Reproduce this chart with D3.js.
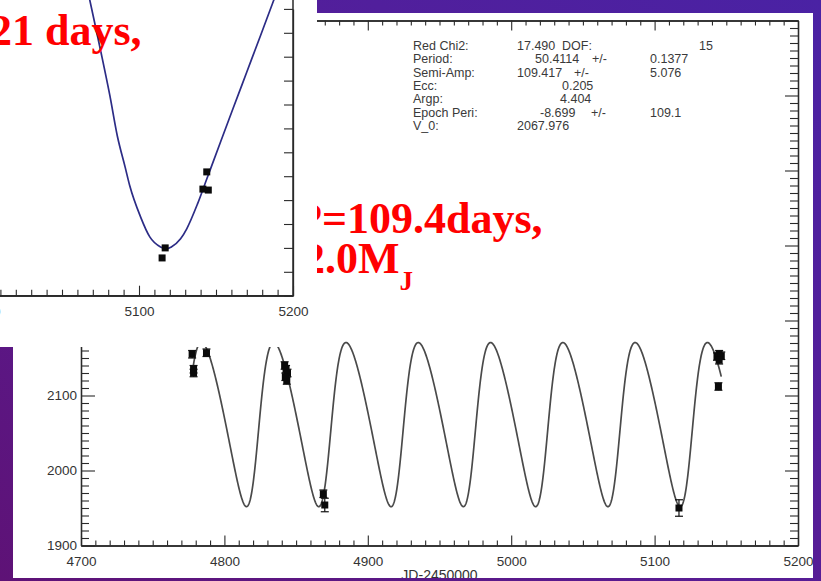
<!DOCTYPE html>
<html>
<head>
<meta charset="utf-8">
<script src="https://cdn.jsdelivr.net/npm/d3@7"></script>
<style>
  html, body { margin: 0; padding: 0; background: #fff; }
  svg { display: block; }
  .tick text { font-family: "Liberation Sans", Arial, sans-serif; fill: #333; }
</style>
</head>
<body>
<svg id="chart" width="821" height="581"></svg>
<script>
// ---- radial-velocity observations (JD-2450000, m/s) ----
const obsTime = [4777.5, 4778.5, 4778.5, 4787.5, 4842, 4843, 4844, 4842.5, 4843.5, 4869, 4870, 5117, 5143.5, 5145, 5146.5, 5145, 5144.5];
const obsRV   = [2155, 2135, 2130, 2157, 2140, 2135, 2130, 2125, 2120, 1969, 1954, 1950, 2152, 2155, 2153, 2147, 2112];
const obsErr  = [5, 5, 5, 5, 5, 5, 5, 5, 5, 5, 9, 11, 5, 5, 5, 5, 5];

// ---- Keplerian fit parameters ----
const fitPeriod = 50.4114;
const fitK = 109.417;
const fitEcc = 0.205;
const fitArgp = 4.404;      // radians
const fitV0 = 2067.976;
const fitTperi = 4973.8;    // JD-2450000

// ---- fit summary text ----
const statNames  = ["Red Chi2:", "Period:", "Semi-Amp:", "Ecc:", "Argp:", "Epoch Peri:", "V_0:"];
const statValues = ["17.490", "50.4114", "109.417", "0.205", "4.404", "-8.699", "2067.976"];
const statPM     = ["", "+/-", "+/-", "", "", "+/-", ""];
const statErrors = ["", "0.1377", "5.076", "", "", "109.1", ""];
const dofLabel = "DOF:";
const dofValue = "15";

// ---- main axis ticks ----
const xTicks = [4700, 4800, 4900, 5000, 5100, 5200];
const yTicks = [1900, 2000, 2100];
const xTitle = "JD-2450000";

// ---- inset panel: observations and fitted curve ----
const insetTime = [5115, 5117, 5141.5, 5144, 5145];
const insetRV   = [1929, 1950, 2073, 2109, 2071];
const insetCurveTime = [5061, 5068, 5075, 5081, 5086, 5091, 5094, 5101, 5107, 5114, 5118, 5121, 5127, 5131, 5138, 5144, 5153, 5161, 5170, 5179, 5187, 5193];
const insetCurveRV   = [2575, 2469, 2364, 2270, 2183, 2119, 2080, 2015, 1973, 1952, 1948, 1952, 1969, 1990, 2042, 2094, 2172, 2241, 2318, 2395, 2464, 2515];
const insetXTicks = [5000, 5100, 5200];

// ---- planet annotations ----
const noteTop = "21 days,";
const notePeriod = "P=109.4days,";
const noteMass = "2.0M";
const noteMassSub = "J";

const svg = d3.select("#chart");
const defs = svg.append("defs");

// purple slide background
const grad = defs.append("linearGradient").attr("id", "bg")
  .attr("x1", "1").attr("y1", "0").attr("x2", "0").attr("y2", "1");
grad.append("stop").attr("offset", "0%").attr("stop-color", "#4a22a4");
grad.append("stop").attr("offset", "55%").attr("stop-color", "#581c94");
grad.append("stop").attr("offset", "100%").attr("stop-color", "#5e1276");
svg.append("rect").attr("width", 821).attr("height", 581).attr("fill", "url(#bg)");

const sansFont = '"Liberation Sans", Arial, sans-serif';
const serifFont = '"Liberation Serif", "Times New Roman", serif';
const axisColor = "#2a2a2a";

// =============== main panel ===============
const main = svg.append("g");
main.append("rect").attr("x", 13).attr("y", 13).attr("width", 800).attr("height", 565).attr("fill", "#fff");
defs.append("clipPath").attr("id", "mainClip")
  .append("rect").attr("x", 13).attr("y", 13).attr("width", 800).attr("height", 565);
const mainG = main.append("g").attr("clip-path", "url(#mainClip)");

const x = d3.scaleLinear().domain([4700, 5200]).range([81, 798]);
const y = d3.scaleLinear().domain([1900, 2600]).range([545.5, 20.5]);
const [pl, pr] = x.range();
const [pb, pt] = y.range();

function styleAxis(g, fontSize) {
  g.selectAll("path.domain").attr("stroke", axisColor).attr("stroke-width", 1.3);
  g.selectAll(".tick line").attr("stroke", axisColor).attr("stroke-width", 1.1);
  g.selectAll(".tick text").attr("font-size", fontSize);
}

const minorX = d3.range(4700, 5201, 10).filter(v => v % 100 !== 0);
const minorY = d3.range(1900, 2601, 10).filter(v => v % 100 !== 0);
const majorY = d3.range(1900, 2601, 100);

// bottom axis
mainG.append("g").attr("transform", `translate(0,${pb})`)
  .call(d3.axisBottom(x).tickValues(minorX).tickSizeInner(-5).tickSizeOuter(0).tickFormat(""))
  .call(g => styleAxis(g, 13));
mainG.append("g").attr("transform", `translate(0,${pb})`)
  .call(d3.axisBottom(x).tickValues(xTicks).tickSizeInner(-10).tickSizeOuter(0).tickPadding(11).tickFormat(d3.format("d")))
  .call(g => styleAxis(g, 13.5));
// top axis
mainG.append("g").attr("transform", `translate(0,${pt})`)
  .call(d3.axisTop(x).tickValues(minorX).tickSizeInner(-5).tickSizeOuter(0).tickFormat(""))
  .call(g => styleAxis(g, 13));
mainG.append("g").attr("transform", `translate(0,${pt})`)
  .call(d3.axisTop(x).tickValues(xTicks).tickSizeInner(-10).tickSizeOuter(0).tickFormat(""))
  .call(g => styleAxis(g, 13));
// left axis
mainG.append("g").attr("transform", `translate(${pl},0)`)
  .call(d3.axisLeft(y).tickValues(minorY).tickSizeInner(-8).tickSizeOuter(0).tickFormat(""))
  .call(g => styleAxis(g, 13));
mainG.append("g").attr("transform", `translate(${pl},0)`)
  .call(d3.axisLeft(y).tickValues(majorY).tickSizeInner(-14).tickSizeOuter(0).tickFormat(""))
  .call(g => styleAxis(g, 13));
mainG.append("g").attr("transform", `translate(${pl},0)`)
  .call(d3.axisLeft(y).tickValues(yTicks).tickSizeInner(0).tickSizeOuter(0).tickPadding(4).tickFormat(d3.format("d")))
  .call(g => { styleAxis(g, 13.5); g.select("path.domain").remove(); });
// right axis
mainG.append("g").attr("transform", `translate(${pr},0)`)
  .call(d3.axisRight(y).tickValues(minorY).tickSizeInner(-8).tickSizeOuter(0).tickFormat(""))
  .call(g => styleAxis(g, 13));
mainG.append("g").attr("transform", `translate(${pr},0)`)
  .call(d3.axisRight(y).tickValues(majorY).tickSizeInner(-13).tickSizeOuter(0).tickFormat(""))
  .call(g => styleAxis(g, 13));

// axis title
mainG.append("text").attr("x", (pl + pr) / 2).attr("y", 580)
  .attr("text-anchor", "middle").attr("font-family", sansFont).attr("font-size", 14)
  .attr("fill", "#333").text(xTitle);

// Keplerian radial-velocity model, drawn across the span of the observations
function keplerRV(t) {
  const M = 2 * Math.PI * (t - fitTperi) / fitPeriod;
  let E = M;
  for (let i = 0; i < 12; i++) E = E - (E - fitEcc * Math.sin(E) - M) / (1 - fitEcc * Math.cos(E));
  const nu = 2 * Math.atan2(Math.sqrt(1 + fitEcc) * Math.sin(E / 2), Math.sqrt(1 - fitEcc) * Math.cos(E / 2));
  return fitV0 + fitK * (Math.cos(nu + fitArgp) + fitEcc * Math.cos(fitArgp));
}
const [tFirst, tLast] = d3.extent(obsTime);
const modelT = d3.range(tFirst, tLast + 0.01, 0.25);
defs.append("clipPath").attr("id", "plotClip")
  .append("rect").attr("x", pl).attr("y", pt).attr("width", pr - pl).attr("height", pb - pt);
mainG.append("path")
  .attr("clip-path", "url(#plotClip)")
  .attr("d", d3.line().x(t => x(t)).y(t => y(keplerRV(t)))(modelT))
  .attr("fill", "none").attr("stroke", "#4a4a4a").attr("stroke-width", 1.7);

// observations with error bars
const obs = obsTime.map((t, i) => ({ t, v: obsRV[i], e: obsErr[i] }));
const eb = mainG.append("g").attr("stroke", "#111").attr("stroke-width", 1.2);
obs.forEach(d => {
  eb.append("line").attr("x1", x(d.t)).attr("x2", x(d.t)).attr("y1", y(d.v - d.e)).attr("y2", y(d.v + d.e));
  eb.append("line").attr("x1", x(d.t) - 4).attr("x2", x(d.t) + 4).attr("y1", y(d.v - d.e)).attr("y2", y(d.v - d.e));
  eb.append("line").attr("x1", x(d.t) - 4).attr("x2", x(d.t) + 4).attr("y1", y(d.v + d.e)).attr("y2", y(d.v + d.e));
});
mainG.append("g").selectAll("rect").data(obs).join("rect")
  .attr("x", d => x(d.t) - 3.5).attr("y", d => y(d.v) - 3.5)
  .attr("width", 7).attr("height", 7).attr("fill", "#0a0a0a");

// fit summary block
const stats = mainG.append("g").attr("font-family", sansFont).attr("font-size", 12.5).attr("fill", "#3a3a3a");
const rowY = i => 50 + i * 13.3;
const valueX = [517, 535, 517, 562, 560, 540, 517];
const pmX = [0, 592, 574, 0, 0, 591, 0];
statNames.forEach((s, i) => {
  stats.append("text").attr("x", 413).attr("y", rowY(i)).text(s);
  stats.append("text").attr("x", valueX[i]).attr("y", rowY(i)).text(statValues[i]);
  if (statPM[i]) stats.append("text").attr("x", pmX[i]).attr("y", rowY(i)).text(statPM[i]);
  if (statErrors[i]) stats.append("text").attr("x", 650).attr("y", rowY(i)).text(statErrors[i]);
});
stats.append("text").attr("x", 562).attr("y", rowY(0)).text(dofLabel);
stats.append("text").attr("x", 713).attr("y", rowY(0)).attr("text-anchor", "end").text(dofValue);

// planet annotation (period / mass)
const note = mainG.append("g").attr("font-family", serifFont).attr("font-weight", "bold").attr("fill", "#ff0000");
note.append("text").attr("x", 295).attr("y", 233).attr("font-size", 44).text(notePeriod);
const massText = note.append("text").attr("x", 303).attr("y", 273).attr("font-size", 44);
massText.append("tspan").text(noteMass);
massText.append("tspan").attr("font-size", 27).attr("dy", 17).text(noteMassSub);

// =============== inset panel ===============
const inset = svg.append("g");
inset.append("rect").attr("x", 0).attr("y", 0).attr("width", 317).attr("height", 347).attr("fill", "#fff");

const ix = d3.scaleLinear().domain([5000, 5200]).range([-15, 293]);
const iy = d3.scaleLinear().domain([1850, 2450]).range([295.7, 8.9]);
const ipr = ix(5200);
const ipb = iy(1850);

const iMinorX = d3.range(5000, 5201, 10).filter(v => v % 100 !== 0);
const iMajorY = d3.range(1850, 2451, 50);

inset.append("g").attr("transform", `translate(0,${ipb})`)
  .call(d3.axisBottom(ix).tickValues(iMinorX).tickSizeInner(-6).tickSizeOuter(0).tickFormat(""))
  .call(g => styleAxis(g, 13));
inset.append("g").attr("transform", `translate(0,${ipb})`)
  .call(d3.axisBottom(ix).tickValues(insetXTicks).tickSizeInner(-10).tickSizeOuter(0).tickPadding(11).tickFormat(d3.format("d")))
  .call(g => styleAxis(g, 13.5));
inset.append("g").attr("transform", `translate(${ipr},0)`)
  .call(d3.axisRight(iy).tickValues(iMajorY).tickSizeInner(-9).tickSizeOuter(0).tickFormat(""))
  .call(g => styleAxis(g, 13));
inset.append("line").attr("x1", ipr).attr("x2", ipr).attr("y1", 0).attr("y2", ipb)
  .attr("stroke", axisColor).attr("stroke-width", 1.5);
inset.append("line").attr("x1", 0).attr("x2", ipr).attr("y1", ipb).attr("y2", ipb)
  .attr("stroke", axisColor).attr("stroke-width", 1.5);

defs.append("clipPath").attr("id", "insetClip")
  .append("rect").attr("x", 0).attr("y", 0).attr("width", ipr).attr("height", ipb);
inset.append("path")
  .attr("clip-path", "url(#insetClip)")
  .datum(insetCurveTime.map((t, i) => [t, insetCurveRV[i]]))
  .attr("d", d3.line().x(d => ix(d[0])).y(d => iy(d[1])).curve(d3.curveMonotoneX))
  .attr("fill", "none").attr("stroke", "#2c2c86").attr("stroke-width", 1.7);

inset.append("g").selectAll("rect")
  .data(insetTime.map((t, i) => ({ t, v: insetRV[i] })))
  .join("rect")
  .attr("x", d => ix(d.t) - 3.5).attr("y", d => iy(d.v) - 3.5)
  .attr("width", 7).attr("height", 7).attr("fill", "#0a0a0a");

// annotation over the inset
svg.append("text").attr("x", -10).attr("y", 45)
  .attr("font-family", serifFont).attr("font-weight", "bold").attr("font-size", 44)
  .attr("fill", "#ff0000").text(noteTop);
</script>
</body>
</html>
